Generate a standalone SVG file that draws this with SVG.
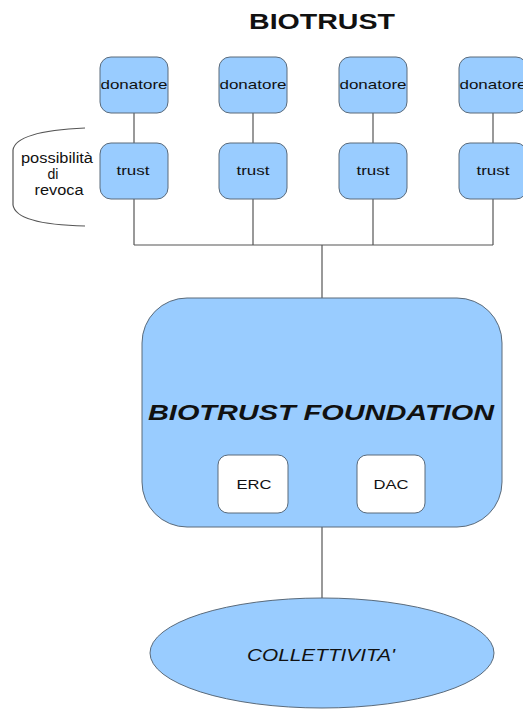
<svg xmlns="http://www.w3.org/2000/svg" width="523" height="709" viewBox="0 0 523 709">
<style>
.box{fill:#99ccff;stroke:#5a6a7a;stroke-width:1}
.wbox{fill:#ffffff;stroke:#5a6a7a;stroke-width:1}
.ln{stroke:#555;stroke-width:1.2;fill:none}
text{font-family:"Liberation Sans",Arial,sans-serif;fill:#111}
.lbl{font-size:13px;text-anchor:middle}
.rev{font-size:14px;text-anchor:middle}
</style>
<rect width="523" height="709" fill="#ffffff"/>
<text x="322" y="29" font-size="22" font-weight="bold" text-anchor="middle" textLength="146" lengthAdjust="spacingAndGlyphs">BIOTRUST</text>
<g id="connectors">
<line class="ln" x1="134" y1="113" x2="134" y2="143"/>
<line class="ln" x1="253" y1="113" x2="253" y2="143"/>
<line class="ln" x1="373" y1="113" x2="373" y2="143"/>
<line class="ln" x1="493" y1="113" x2="493" y2="143"/>
<line class="ln" x1="134" y1="199" x2="134" y2="245"/>
<line class="ln" x1="253" y1="199" x2="253" y2="245"/>
<line class="ln" x1="373" y1="199" x2="373" y2="245"/>
<line class="ln" x1="493" y1="199" x2="493" y2="245"/>
<line class="ln" x1="134" y1="245" x2="493" y2="245"/>
<line class="ln" x1="322" y1="245" x2="322" y2="298"/>
<line class="ln" x1="322" y1="527" x2="322" y2="598"/>
</g>
<g id="donatore1"><rect class="box" x="100" y="57" width="68" height="56" rx="11"/><text class="lbl" x="134" y="89" textLength="67" lengthAdjust="spacingAndGlyphs">donatore</text></g>
<g id="donatore2"><rect class="box" x="219" y="57" width="68" height="56" rx="11"/><text class="lbl" x="253" y="89" textLength="67" lengthAdjust="spacingAndGlyphs">donatore</text></g>
<g id="donatore3"><rect class="box" x="339" y="57" width="68" height="56" rx="11"/><text class="lbl" x="373" y="89" textLength="67" lengthAdjust="spacingAndGlyphs">donatore</text></g>
<g id="donatore4"><rect class="box" x="459" y="57" width="68" height="56" rx="11"/><text class="lbl" x="493" y="89" textLength="67" lengthAdjust="spacingAndGlyphs">donatore</text></g>
<g id="trust1"><rect class="box" x="100" y="143" width="68" height="56" rx="11"/><text class="lbl" x="133" y="175" font-size="14" textLength="33" lengthAdjust="spacingAndGlyphs">trust</text></g>
<g id="trust2"><rect class="box" x="219" y="143" width="68" height="56" rx="11"/><text class="lbl" x="253" y="175" font-size="14" textLength="33" lengthAdjust="spacingAndGlyphs">trust</text></g>
<g id="trust3"><rect class="box" x="339" y="143" width="68" height="56" rx="11"/><text class="lbl" x="373" y="175" font-size="14" textLength="33" lengthAdjust="spacingAndGlyphs">trust</text></g>
<g id="trust4"><rect class="box" x="459" y="143" width="68" height="56" rx="11"/><text class="lbl" x="493" y="175" font-size="14" textLength="33" lengthAdjust="spacingAndGlyphs">trust</text></g>
<g id="revoca">
<path class="ln" d="M85,128 C40,130 15,137 13,150 L13,205 C15,218 40,225 85,226" stroke="#666" stroke-width="1"/>
<text class="rev" x="57" y="163" textLength="72" lengthAdjust="spacingAndGlyphs">possibilità</text>
<text class="rev" x="53" y="179" textLength="11" lengthAdjust="spacingAndGlyphs">di</text>
<text class="rev" x="59" y="195" textLength="49" lengthAdjust="spacingAndGlyphs">revoca</text>
</g>
<g id="foundation">
<rect class="box" x="142" y="298" width="360" height="229" rx="45"/>
<text x="321" y="420" font-size="22" font-weight="bold" font-style="italic" text-anchor="middle" textLength="346" lengthAdjust="spacingAndGlyphs">BIOTRUST FOUNDATION</text>
</g>
<g id="erc"><rect class="wbox" x="218" y="455" width="70" height="58" rx="10"/><text class="lbl" x="254" y="489" font-size="14" textLength="35" lengthAdjust="spacingAndGlyphs">ERC</text></g>
<g id="dac"><rect class="wbox" x="357" y="455" width="68" height="58" rx="10"/><text class="lbl" x="391" y="489" font-size="14" textLength="35" lengthAdjust="spacingAndGlyphs">DAC</text></g>
<g id="collettivita">
<ellipse class="box" cx="322" cy="653" rx="172" ry="55"/>
<text x="321" y="661" font-size="17" font-style="italic" text-anchor="middle" fill="#1a2a3a" textLength="148" lengthAdjust="spacingAndGlyphs">COLLETTIVITA'</text>
</g>
</svg>
